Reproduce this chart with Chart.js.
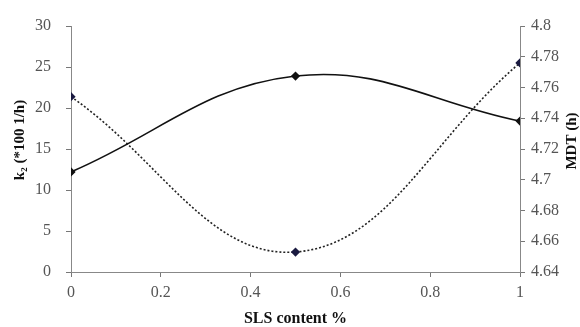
<!DOCTYPE html>
<html><head><meta charset="utf-8">
<script src="https://cdn.jsdelivr.net/npm/chart.js@4"></script>
<style>html,body{margin:0;padding:0;background:#fff}#wrap{width:580px;height:327px}</style>
</head><body><div id="wrap"><canvas id="c"></canvas></div>
<script>
const slsContent=[0,0.5,1];
const k2Values=[12.2,23.9,18.4];
const mdtValues=[4.754,4.653,4.776];
const xTicks=[0,0.2,0.4,0.6,0.8,1];
const xTitle='SLS content %';
const leftTitle='k\u2082 (*100 1/h)';
const rightTitle='MDT (h)';

const serif='"Liberation Serif","Times New Roman",serif';
const tickFont={family:serif,size:16};
const fmt=v=>String(parseFloat(Number(v).toFixed(2)));

// axis titles drawn by hand so they sit where the reference has them
const axisTitles={id:'axisTitles',afterDraw(chart){
  const {ctx,chartArea:a}=chart;
  ctx.save();
  ctx.font='bold 16px '+serif;ctx.fillStyle='#111';ctx.textAlign='center';ctx.textBaseline='middle';
  ctx.fillText(xTitle,(a.left+a.right)/2,319);
  ctx.font='bold 15px '+serif;
  [[20,140,leftTitle],[572,141,rightTitle]].forEach(([x,y,t])=>{
    ctx.save();ctx.translate(x,y);ctx.rotate(-Math.PI/2);ctx.fillText(t,0,0);ctx.restore();
  });
  ctx.restore();
}};

new Chart(document.getElementById('c'),{
  type:'line',
  data:{datasets:[
    {label:'k2',data:slsContent.map((x,i)=>({x,y:k2Values[i]})),yAxisID:'y',
     borderColor:'#111',borderWidth:1.6,tension:0.4,pointStyle:'rectRot',pointRadius:3.5,
     pointBackgroundColor:'#111',pointBorderColor:'#111'},
    {label:'MDT',data:slsContent.map((x,i)=>({x,y:mdtValues[i]})),yAxisID:'y1',
     borderColor:'#222',borderWidth:1.6,borderDash:[2,2],tension:0.4,pointStyle:'rectRot',pointRadius:3.5,
     pointBackgroundColor:'#1a1a40',pointBorderColor:'#1a1a40'}
  ]},
  options:{responsive:true,maintainAspectRatio:false,animation:false,
    layout:{padding:{top:26,left:0,right:0,bottom:0}},
    plugins:{legend:{display:false},tooltip:{enabled:false}},
    scales:{
      x:{type:'linear',min:0,max:1,
        afterBuildTicks:s=>{s.ticks=xTicks.map(v=>({value:v}));},
        afterFit:s=>{s.height=55;},
        grid:{drawOnChartArea:false,tickLength:5,color:'#777'},border:{color:'#888'},
        ticks:{font:tickFont,color:'#555',callback:fmt,maxRotation:0,padding:6}},
      y:{position:'left',min:0,max:30,
        afterFit:s=>{s.width=71;},
        grid:{drawOnChartArea:false,tickLength:5,color:'#777'},border:{color:'#888'},
        ticks:{font:tickFont,color:'#555',stepSize:5,padding:15}},
      y1:{position:'right',min:4.64,max:4.8,
        afterFit:s=>{s.width=60;},
        grid:{drawOnChartArea:false,tickLength:5,color:'#777'},border:{color:'#888'},
        ticks:{font:tickFont,color:'#555',stepSize:0.02,callback:fmt,padding:6}}
    }
  },
  plugins:[axisTitles]
});
</script></body></html>
